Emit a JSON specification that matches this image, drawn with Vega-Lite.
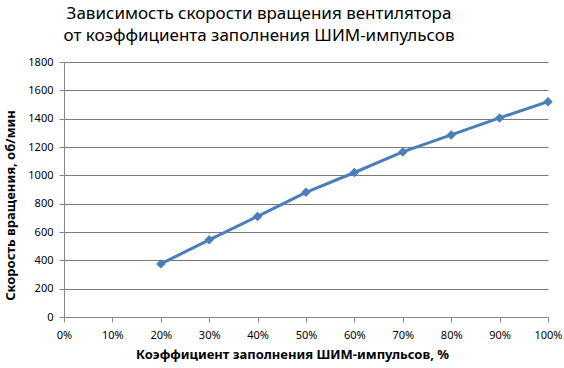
{
  "$schema": "https://vega.github.io/schema/vega-lite/v6.json",
  "width": 484,
  "height": 255,
  "autosize": "none",
  "padding": {"left": 64, "top": 62, "right": 16, "bottom": 51},
  "background": "white",
  "title": {
    "text": ["Зависимость скорости вращения вентилятора", "от коэффициента  заполнения ШИМ-импульсов"],
    "font": "Noto Sans",
    "fontSize": 17,
    "fontWeight": "normal",
    "color": "black",
    "anchor": "middle",
    "dx": -47,
    "offset": 11,
    "lineHeight": 22
  },
  "config": {
    "view": {"stroke": null},
    "axis": {
      "labelFont": "Noto Sans",
      "titleFont": "Noto Sans",
      "labelFontSize": 11,
      "labelColor": "black",
      "titleColor": "black",
      "titleFontSize": 13,
      "titleFontWeight": "bold",
      "domainColor": "#868686",
      "tickColor": "#868686",
      "gridColor": "#7a7a7a",
      "gridOpacity": 1,
      "gridWidth": 1
    }
  },
  "data": {
    "values": [
      {"duty": 0.2, "rpm": 375},
      {"duty": 0.3, "rpm": 545},
      {"duty": 0.4, "rpm": 710},
      {"duty": 0.5, "rpm": 880},
      {"duty": 0.6, "rpm": 1020},
      {"duty": 0.7, "rpm": 1165},
      {"duty": 0.8, "rpm": 1285},
      {"duty": 0.9, "rpm": 1405},
      {"duty": 1.0, "rpm": 1520}
    ]
  },
  "mark": {
    "type": "line",
    "color": "#4A7EBB",
    "strokeWidth": 3,
    "point": {"shape": "diamond", "size": 90, "filled": true, "color": "#4A7EBB"}
  },
  "encoding": {
    "x": {
      "field": "duty",
      "type": "quantitative",
      "scale": {"domain": [0, 1], "nice": false},
      "axis": {
        "values": [0, 0.1, 0.2, 0.3, 0.4, 0.5, 0.6, 0.7, 0.8, 0.9, 1.0],
        "format": ".0%",
        "grid": false,
        "tickSize": 5,
        "labelPadding": 7,
        "title": "Коэффициент заполнения ШИМ-импульсов, %",
        "titleX": 228,
        "titleY": 37,
        "titleBaseline": "middle",
        "titleAnchor": "start",
        "titleAlign": "center",
        "labelFlush": false
      }
    },
    "y": {
      "field": "rpm",
      "type": "quantitative",
      "scale": {"domain": [0, 1800], "nice": false},
      "axis": {
        "values": [0, 200, 400, 600, 800, 1000, 1200, 1400, 1600, 1800],
        "format": "d",
        "grid": true,
        "tickSize": 5,
        "labelPadding": 6,
        "title": "Скорость вращения, об/мин",
        "titleX": -54,
        "titleY": 143,
        "titleAngle": 270,
        "titleBaseline": "middle",
        "titleAlign": "center",
        "labelFlush": false
      }
    }
  }
}
